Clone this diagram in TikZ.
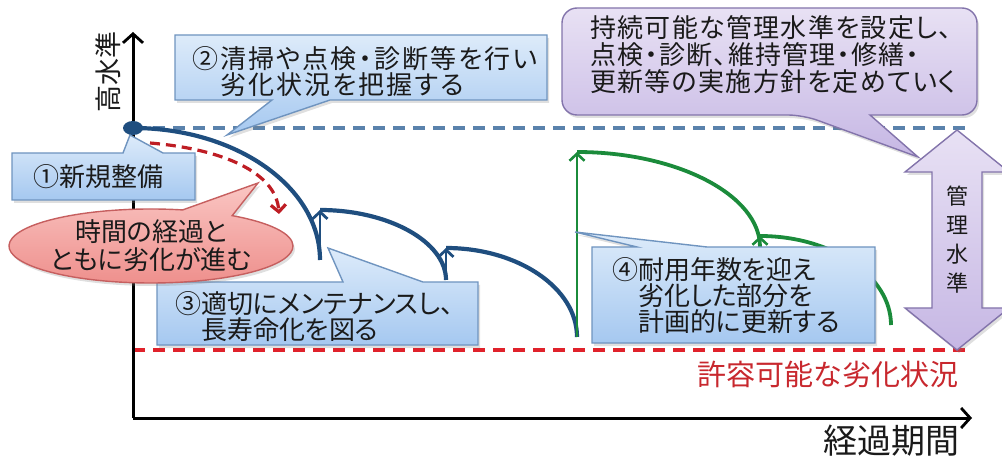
\documentclass[tikz,border=0pt]{standalone}
\usepackage{fontspec}
\setmainfont{Noto Sans CJK JP}[RawFeature=+palt]
\newfontfamily\inspectfont{Noto Sans CJK JP}[RawFeature=+palt, LetterSpace=8]
\newfontfamily\policyfont{Noto Sans CJK JP}[RawFeature=+palt, LetterSpace=5]
\usetikzlibrary{arrows.meta,shapes.callouts,shadows}

\definecolor{navy}{HTML}{1F4E7F}
\definecolor{leaf}{HTML}{1B8B3B}
\definecolor{steel}{HTML}{5A82AC}
\definecolor{alarm}{HTML}{E0222B}
\definecolor{alarmtext}{HTML}{C8282E}
\definecolor{boxtop}{HTML}{DDEBFA}
\definecolor{boxbot}{HTML}{A5C8F0}
\definecolor{boxline}{HTML}{6F94BF}
\definecolor{pinktop}{HTML}{FAC6C3}
\definecolor{pinkbot}{HTML}{EE8F8C}
\definecolor{pinkline}{HTML}{C65F5F}
\definecolor{liltop}{HTML}{E8E1F4}
\definecolor{lilbot}{HTML}{C6B7E4}
\definecolor{lilline}{HTML}{8374AB}
\definecolor{ink}{HTML}{1A1A1A}

\tikzset{
  jp/.style={font=\fontsize{26}{26}\selectfont, text=ink, align=left, inner sep=0pt},
  softshadow/.style={drop shadow={opacity=0.25, shadow xshift=2pt, shadow yshift=-3pt}},
  bluebox/.style={draw=boxline, line width=1.4pt, top color=boxtop, bottom color=boxbot, softshadow},
  lilbox/.style={draw=lilline, line width=1.4pt, top color=liltop, bottom color=lilbot, softshadow},
  decay/.style={navy, line width=4.2pt},
  renewal/.style={leaf, line width=3.8pt},
  axistip/.style={-{Straight Barb[length=9pt,width=20pt,line width=2.8pt]}},
}

\begin{document}
\begin{tikzpicture}[x=1pt, y=-1pt, >={Straight Barb[length=7pt,width=15pt]}]
\useasboundingbox (0,0) rectangle (1002,457);

% levels
\coordinate (top0) at (133,128);
\coordinate (top1) at (972,128);
\coordinate (low0) at (133,350);
\coordinate (low1) at (972,350);
\draw[steel, line width=3.2pt, dash pattern=on 12pt off 8pt] (top0) -- (top1);
\draw[alarm, line width=3.6pt, dash pattern=on 12pt off 8pt] (low0) -- (low1);
\node[font=\fontsize{29}{29}\selectfont, text=alarmtext] (allow) at (828,374) {許容可能な劣化状況};

% axes
\coordinate (origin) at (133,418);
\coordinate (ytop) at (133,32);
\coordinate (xend) at (972,418);
\draw[line width=3pt, axistip] (origin) -- (ytop);
\draw[line width=3pt, axistip] (origin) -- (xend);
\node[rotate=90, font=\fontsize{27}{27}\selectfont, text=ink] (high) at (108,72) {高水準};
\node[font=\fontsize{34}{34}\selectfont, text=ink] (elapsed) at (891,441) {経過期間};

% deterioration and renewal
\coordinate (a1) at (320,260);
\coordinate (a2) at (320,210);
\coordinate (b1) at (446,280);
\coordinate (b2) at (446,248);
\coordinate (c1) at (577,337);
\coordinate (c2) at (577,152);
\coordinate (d1) at (760,247);
\coordinate (d2) at (760,236);
\coordinate (e1) at (891,325);
\draw[decay] (top0) .. controls +(103,0) and +(0,-73) .. (a1);
\draw[decay] (a2) .. controls +(69,0) and +(0,-38) .. (b1);
\draw[decay] (b2) .. controls +(72,0) and +(0,-49) .. (c1);
\draw[renewal] (c2) .. controls +(100,0) and +(0,-52) .. (d1);
\draw[renewal] (d2) .. controls +(72,0) and +(0,-49) .. (e1);
\draw[navy, line width=2.8pt, ->] (a1) -- (a2);
\draw[navy, line width=2.8pt, ->] (b1) -- (b2);
\draw[leaf, line width=2.6pt, ->] (c1) -- (c2);
\draw[leaf, line width=2.6pt, ->] (d1) -- (d2);

\coordinate (fade0) at (150,143);
\coordinate (fade1) at (279,214);
\draw[alarm!85!black, line width=3.2pt, dash pattern=on 10pt off 6pt, ->] (fade0) .. controls (222,149) and (276,172) .. (fade1);

% management level
\path[lilbox] (957,130) -- (1009,172) -- (982,172) -- (982,308) -- (1009,308) -- (957,350) -- (905,308) -- (932,308) -- (932,172) -- (905,172) -- cycle;
\node[font=\fontsize{22}{29}\selectfont, text=ink, align=center] (level) at (957,240) {管\\理\\水\\準};

% callouts
\path[bluebox] (175,35) -- (547,35) -- (547,100) -- (330,100) -- (227,135) -- (272,100) -- (175,100) -- cycle;
\node[jp, font=\inspectfont\fontsize{26}{26}\selectfont, anchor=west] (inspect) at (192,72) {②清掃や点検・診断等を行い\\　劣化状況を把握する};

\path[bluebox] (12,153) -- (123,153) -- (130,135) -- (163,153) -- (195,153) -- (195,200) -- (12,200) -- cycle;
\node[jp] (build) at (99,177) {①新規整備};

\path[bluebox] (157,282) -- (343,282) -- (328,248) -- (423,282) -- (478,282) -- (478,345) -- (157,345) -- cycle;
\node[jp, anchor=west] (extend) at (175,317) {③適切にメンテナンスし、\\　長寿命化を図る};

\node[ellipse callout, draw=pinkline, line width=1.4pt, top color=pinktop, bottom color=pinkbot, softshadow,
      minimum width=284pt, minimum height=74pt, inner sep=0pt, callout pointer arc=22,
      callout absolute pointer={(258,183)}, font=\fontsize{26}{28}\selectfont, text=ink, align=center]
      (fade) at (151,246) {時間の経過と\\ともに劣化が進む};

\path[bluebox] (592,247) -- (637,247) -- (575,232) -- (707,247) -- (875,247) -- (875,343) -- (592,343) -- cycle;
\node[jp, anchor=west] (renew) at (612,296) {④耐用年数を迎え\\　劣化した部分を\\　計画的に更新する};

\path[lilbox] (918,157) -- (870,115) [rounded corners=15pt] -- (977,115) -- (977,8) -- (562,8) -- (562,115) -- (803,115) [sharp corners] -- cycle;
\node[jp, font=\policyfont\fontsize{26}{27}\selectfont, anchor=west] (policy) at (590,55) {持続可能な管理水準を設定し、\\点検・診断、維持管理・修繕・\\更新等の実施方針を定めていく};

\fill[navy] (top0) ellipse [x radius=10pt, y radius=7pt];
\end{tikzpicture}
\end{document}
